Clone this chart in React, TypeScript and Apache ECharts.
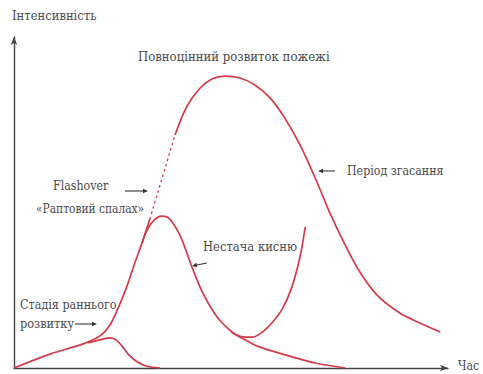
import React, { useEffect, useRef } from "react";
import * as echarts from "echarts";

// time (0-100) vs intensity (0-100)
const mainRise: [number, number][] = [
  [0, 0], [8.3, 4.2], [15.9, 7.3], [19.8, 9.7], [22.1, 13.0], [24.0, 18.1],
  [25.8, 23.9], [27.6, 30.8], [29.5, 37.8], [31.3, 45.0],
];
const flashoverDashed: [number, number][] = [[31.3, 45.0], [37.1, 70.4]];
const mainFull: [number, number][] = [
  [37.1, 70.4], [39.9, 79.2], [42.9, 84.6], [45.6, 87.3], [48.6, 88.2], [52.1, 87.6],
  [55.5, 85.5], [59.0, 81.6], [62.4, 75.5], [65.9, 67.4], [69.4, 57.4], [72.8, 46.8],
  [76.3, 37.2], [79.7, 29.0], [83.6, 22.1], [88.9, 16.6], [93.5, 13.6], [98.2, 10.9],
];
const earlyStage: [number, number][] = [
  [17.1, 7.6], [19.8, 8.5], [22.1, 9.1], [23.5, 8.5], [24.9, 6.6], [26.3, 4.2],
  [28.1, 2.1], [30.4, 0.6], [33.6, 0],
];
const oxygenDecay: [number, number][] = [
  [29.5, 37.8], [30.9, 42.3], [32.3, 44.7], [33.9, 45.9], [35.3, 45.6], [36.6, 43.8],
  [38.2, 40.2], [39.6, 35.6], [41.0, 30.5], [43.5, 22.7], [46.8, 15.4], [50.5, 10.6],
  [53.7, 8.2], [56.7, 6.3], [64.3, 3.3], [69.4, 1.5], [76.3, 0],
];
const rebound: [number, number][] = [
  [50.0, 10.9], [52.4, 9.5], [54.8, 9.3], [57.1, 10.7], [59.4, 13.6], [61.8, 17.8],
  [63.8, 23.6], [65.4, 30.8], [66.4, 36.9], [67.1, 42.6],
];

const yAxisTitle = "Інтенсивність";
const xAxisTitle = "Час";
const labelFull = "Повноцінний розвиток пожежі";
const labelFlash1 = "Flashover";
const labelFlash2 = "«Раптовий спалах»";
const labelOxygen = "Нестача кисню";
const labelDecay = "Період згасання";
const labelEarly1 = "Стадія раннього";
const labelEarly2 = "розвитку";

const RED = "#d43a4a";
const TXT = "#4a4a4a";
const FONT = "DejaVu Serif";

function txt(text: string, x: number, y: number, size: number, sx: number) {
  return {
    type: "text",
    x,
    y,
    scaleX: sx,
    style: {
      text,
      fill: TXT,
      fontSize: size,
      fontFamily: FONT,
      align: "left",
      verticalAlign: "middle",
    },
  };
}

function arrow(x1: number, y1: number, x2: number, y2: number) {
  const ang = Math.atan2(y2 - y1, x2 - x1);
  const L = 5, W = 2.2;
  const bx = x2 - L * Math.cos(ang), by = y2 - L * Math.sin(ang);
  const px = -Math.sin(ang) * W, py = Math.cos(ang) * W;
  return {
    type: "group",
    children: [
      { type: "line", shape: { x1, y1, x2: bx, y2: by }, style: { stroke: "#333", lineWidth: 1.1 } },
      {
        type: "polygon",
        shape: { points: [[x2, y2], [bx + px, by + py], [bx - px, by - py]] },
        style: { fill: "#333" },
      },
    ],
  };
}

function lineSeries(data: [number, number][], dashed = false) {
  return {
    type: "line",
    data,
    smooth: 0.35,
    showSymbol: false,
    silent: true,
    lineStyle: { color: RED, width: dashed ? 1.3 : 1.7, type: dashed ? [2.5, 3] : "solid" },
  };
}

export default function App() {
  const ref = useRef<HTMLDivElement>(null);
  useEffect(() => {
    if (!ref.current) return;
    const chart = echarts.init(ref.current, null, { renderer: "svg" });
    const axisCommon = {
      type: "value",
      min: 0,
      max: 100,
      axisLabel: { show: false },
      axisTick: { show: false },
      splitLine: { show: false },
      axisLine: {
        show: true,
        symbol: ["none", "arrow"],
        symbolSize: [5, 8],
        lineStyle: { color: "#444", width: 1.4 },
      },
    };
    chart.setOption({
      animation: false,
      backgroundColor: "#ffffff",
      textStyle: { fontFamily: FONT },
      grid: { left: 14, right: 35, top: 37, bottom: 6 },
      xAxis: { ...axisCommon },
      yAxis: { ...axisCommon },
      series: [
        lineSeries(mainRise),
        lineSeries(flashoverDashed, true),
        lineSeries(mainFull),
        lineSeries(earlyStage),
        lineSeries(oxygenDecay),
        lineSeries(rebound),
      ],
      graphic: [
        txt(yAxisTitle, 12, 16, 13, 0.89),
        txt(xAxisTitle, 458, 366, 13, 0.85),
        txt(labelFull, 138, 57, 13, 0.9),
        txt(labelFlash1, 53, 186, 13, 0.85),
        txt(labelFlash2, 36, 209, 13, 0.82),
        arrow(125, 191, 148, 191),
        txt(labelOxygen, 203, 247, 13, 0.89),
        arrow(207, 263, 192, 266),
        arrow(335, 171, 318, 171),
        txt(labelDecay, 347, 171, 13, 0.85),
        txt(labelEarly1, 20, 305, 13, 0.86),
        txt(labelEarly2, 20, 324, 13, 0.87),
        arrow(75, 324, 97, 324),
      ],
    });
    return () => chart.dispose();
  }, []);
  return (
    <div
      ref={ref}
      style={{ position: "absolute", left: 0, top: 0, width: 483, height: 374, background: "#fff" }}
    />
  );
}
